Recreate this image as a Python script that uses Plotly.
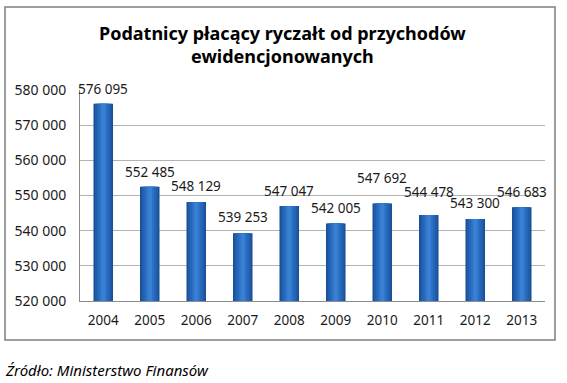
import plotly.graph_objects as go

years = ["2004", "2005", "2006", "2007", "2008", "2009", "2010", "2011", "2012", "2013"]
values = [576095, 552485, 548129, 539253, 547047, 542005, 547692, 544478, 543300, 546683]
y_ticks = [520000, 530000, 540000, 550000, 560000, 570000, 580000]

title_text = "<b>Podatnicy płacący ryczałt od przychodów<br>ewidencjonowanych</b>"
source_text = "<i>Źródło: Ministerstwo Finansów</i>"

label_shift = [15, 15, 16, 16, 15, 16, 26, 23, 16, 15]

FONT = "Noto Sans"
W, H = 567, 383
L, R, T, B = 80, 22, 90, 82
pw, ph = W - L - R, H - T - B

def px(x):
    return (x - L) / pw

def py(y):
    return (H - B - y) / ph

fig = go.Figure()
layers = [
    (0.42, "#1b4f93"),
    (0.36, "#1f5ba8"),
    (0.28, "#2566b8"),
    (0.18, "#2d72c6"),
    (0.09, "#3a80d2"),
]
for w, c in layers:
    fig.add_trace(go.Bar(x=years, y=values, width=w, marker=dict(color=c, line=dict(width=0)),
                         hoverinfo="skip", showlegend=False))

annotations = []
for i, (v, s) in enumerate(zip(values, label_shift)):
    annotations.append(dict(x=i, y=v, xref="x", yref="y", text=f"{v:,}".replace(",", " "),
                            showarrow=False, yanchor="middle", yshift=s,
                            font=dict(family=FONT, size=13.5, color="#1a1a1a")))
annotations.append(dict(x=px(282), y=py(45), xref="paper", yref="paper", text=title_text,
                        showarrow=False, xanchor="center", yanchor="middle",
                        font=dict(family=FONT, size=18, color="#000000")))
annotations.append(dict(x=px(3), y=py(370), xref="paper", yref="paper", text=source_text,
                        showarrow=False, xanchor="left", yanchor="middle",
                        font=dict(family=FONT, size=15, color="#000000")))

fig.update_layout(
    width=W, height=H,
    margin=dict(l=L, r=R, t=T, b=B),
    paper_bgcolor="white", plot_bgcolor="white",
    barmode="overlay", separators=". ",
    annotations=annotations,
    shapes=[dict(type="rect", xref="paper", yref="paper",
                 x0=px(5), x1=px(555), y0=py(340), y1=py(7),
                 line=dict(color="#7f7f7f", width=1.5), layer="above")],
    xaxis=dict(type="category", range=[-0.5, len(years) - 0.5], showline=True,
               linecolor="#8c8c8c", linewidth=1,
               ticks="outside", ticklen=7, tickcolor="rgba(0,0,0,0)",
               tickfont=dict(family=FONT, size=13.5, color="#1a1a1a")),
    yaxis=dict(range=[520000, 580000], tickvals=y_ticks, tickformat=",d",
               showgrid=True, gridcolor="#b3b3b3", gridwidth=1,
               showline=True, linecolor="#8c8c8c", linewidth=1,
               ticks="outside", ticklen=10, tickcolor="rgba(0,0,0,0)",
               tickfont=dict(family=FONT, size=14, color="#1a1a1a"), zeroline=False),
)
fig.write_html("out.html", post_script="document.body.style.margin='0px';",
               config={"displayModeBar": False})
